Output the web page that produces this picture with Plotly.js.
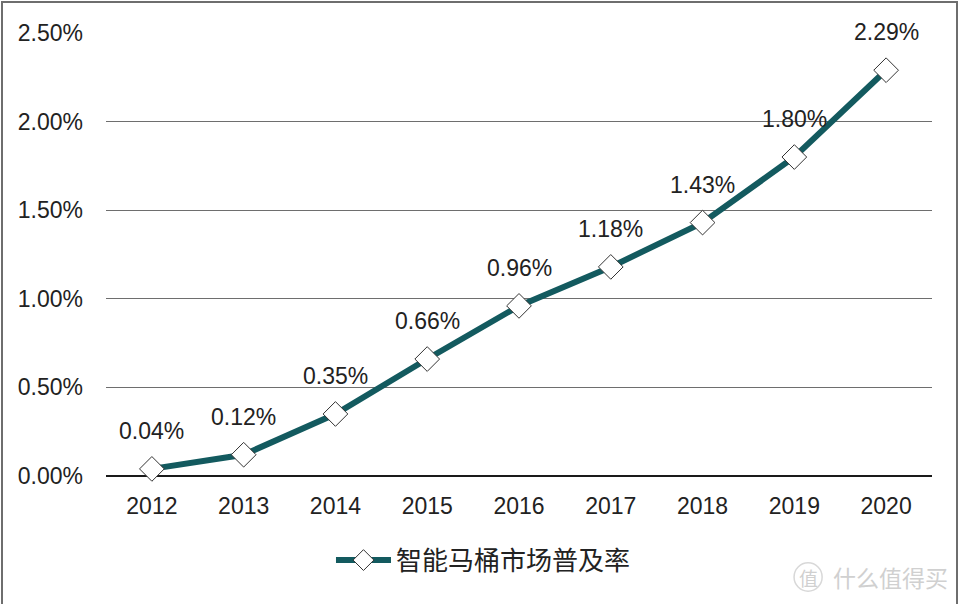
<!DOCTYPE html>
<html>
<head>
<meta charset="utf-8">
<script src="https://cdn.plot.ly/plotly-3.0.1.min.js"></script>
<style>
html,body{margin:0;padding:0;background:#fff;}
#chart{position:absolute;left:0;top:0;width:962px;height:604px;}
#frame{position:absolute;left:1px;top:1px;width:953px;height:620px;border:2px solid #6e6e6e;pointer-events:none;}
</style>
</head>
<body>
<div id="chart"></div>
<div id="frame"></div>
<script>
const years = ['2012','2013','2014','2015','2016','2017','2018','2019','2020'];
const penetration = [0.0004,0.0012,0.0035,0.0066,0.0096,0.0118,0.0143,0.0180,0.0229];
const seriesName = '智能马桶市场普及率';
const yTicks = [0,0.005,0.01,0.015,0.02,0.025];

const trace = {
  x: years, y: penetration, type: 'scatter', mode: 'lines+markers',
  name: seriesName,
  line: {color: '#135a5f', width: 6},
  marker: {symbol: 'diamond', size: 19, color: '#ffffff', line: {color: '#333333', width: 1}},
  cliponaxis: false,
  hoverinfo: 'skip'
};

const annotations = years.map((yr, i) => ({
  x: i, y: penetration[i], xref: 'x', yref: 'y',
  text: (penetration[i]*100).toFixed(2) + '%',
  showarrow: false, yanchor: 'middle', yshift: 38,
  font: {family: 'Liberation Sans, Arial, sans-serif', size: 23, color: '#222'}
}));
annotations.push({
  xref: 'paper', yref: 'paper', x: 1.022, y: -0.228, xanchor: 'right', yanchor: 'middle',
  text: '什么值得买', showarrow: false,
  font: {family: 'Noto Sans CJK SC', size: 23, color: '#d0d0d0'}
});
annotations.push({
  xref: 'paper', yref: 'paper', x: 0.850, y: -0.228, xanchor: 'center', yanchor: 'middle',
  text: '值', showarrow: false,
  font: {family: 'Noto Sans CJK SC', size: 19, color: '#d0d0d0'}
});

const layout = {
  width: 962, height: 604,
  margin: {l: 106, r: 30, t: 33, b: 128},
  paper_bgcolor: '#ffffff', plot_bgcolor: '#ffffff',
  showlegend: true,
  legend: {orientation: 'h', x: 0.457, xanchor: 'center', y: -0.19, yanchor: 'middle',
    itemwidth: 55,
    font: {family: 'Noto Sans CJK SC', size: 26, color: '#222'}},
  xaxis: {
    type: 'category', range: [-0.5, years.length - 0.5], autorange: false,
    showgrid: false, zeroline: false, showline: false,
    ticks: '', ticklabelstandoff: 14,
    tickfont: {family: 'Liberation Sans, Arial, sans-serif', size: 23, color: '#222'},
    fixedrange: true
  },
  yaxis: {
    range: [0, 0.025], autorange: false, tickvals: yTicks, tickformat: '.2%',
    showgrid: true, gridcolor: '#6e6e6e', gridwidth: 1,
    zeroline: true, zerolinecolor: '#1a1a1a', zerolinewidth: 1.5,
    showline: false, ticks: '', ticklabelstandoff: 22,
    tickfont: {family: 'Liberation Sans, Arial, sans-serif', size: 23, color: '#222'},
    fixedrange: true
  },
  shapes: [{
    type: 'circle', xref: 'paper', yref: 'paper',
    x0: 0.833, x1: 0.867, y0: -0.260, y1: -0.196,
    line: {color: '#d8d8d8', width: 1.5}
  }],
  annotations: annotations
};

Plotly.newPlot('chart', [trace], layout, {displayModeBar: false, staticPlot: true});
</script>
</body>
</html>
